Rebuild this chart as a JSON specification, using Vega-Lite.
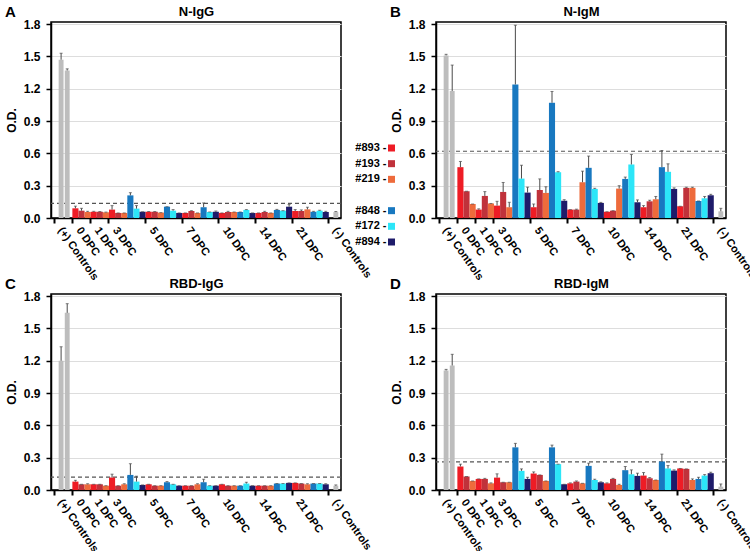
{
"$schema": "https://vega.github.io/schema/vega-lite/v6.json",
"padding": {"left": 3, "top": 3, "right": 0, "bottom": 0},
"bounds": "flush",
"columns": 3,
"spacing": {"row": 52, "column": 0},
"config": {
 "view": {"stroke": "black", "strokeWidth": 1.5},
 "font": "Liberation Sans",
 "axis": {"labelFont": "Liberation Sans", "titleFont": "Liberation Sans", "labelColor": "black", "titleColor": "black", "domainColor": "black", "tickColor": "black"},
 "axisY": {"labelFontSize": 12, "labelFontWeight": "bold", "titleFontSize": 12, "titleFontWeight": "bold", "tickSize": 5, "tickWidth": 1.5, "domainWidth": 1.5, "labelPadding": 6, "titlePadding": 5, "gridColor": "#dddddd", "gridWidth": 1}
},
"datasets": {
 "cutoffs": [
  {"panel": "N-IgG", "cutoff": 0.135},
  {"panel": "N-IgM", "cutoff": 0.62},
  {"panel": "RBD-IgG", "cutoff": 0.12},
  {"panel": "RBD-IgM", "cutoff": 0.262}
 ],
 "legend": [
  {"animal": "#893", "label": "#893 -"},
  {"animal": "#193", "label": "#193 -"},
  {"animal": "#219", "label": "#219 -"},
  {"animal": "#848", "label": "#848 -"},
  {"animal": "#172", "label": "#172 -"},
  {"animal": "#894", "label": "#894 -"}
 ],
 "bars": [
  {"panel":"N-IgG","group":"(+) Controls","animal":"C1","od":1.47,"upper":1.53},
  {"panel":"N-IgG","group":"(+) Controls","animal":"C2","od":1.37,"upper":1.385},
  {"panel":"N-IgG","group":"0 DPC","animal":"#893","od":0.09,"upper":0.11},
  {"panel":"N-IgG","group":"0 DPC","animal":"#193","od":0.068,"upper":0.09},
  {"panel":"N-IgG","group":"0 DPC","animal":"#219","od":0.056,"upper":0.062},
  {"panel":"N-IgG","group":"1 DPC","animal":"#893","od":0.058,"upper":0.062},
  {"panel":"N-IgG","group":"1 DPC","animal":"#193","od":0.058,"upper":0.06},
  {"panel":"N-IgG","group":"1 DPC","animal":"#219","od":0.053,"upper":0.055},
  {"panel":"N-IgG","group":"3 DPC","animal":"#893","od":0.078,"upper":0.115},
  {"panel":"N-IgG","group":"3 DPC","animal":"#193","od":0.047,"upper":0.047},
  {"panel":"N-IgG","group":"3 DPC","animal":"#219","od":0.047,"upper":0.047},
  {"panel":"N-IgG","group":"3 DPC","animal":"#848","od":0.21,"upper":0.235},
  {"panel":"N-IgG","group":"3 DPC","animal":"#172","od":0.087,"upper":0.115},
  {"panel":"N-IgG","group":"3 DPC","animal":"#894","od":0.058,"upper":0.058},
  {"panel":"N-IgG","group":"5 DPC","animal":"#893","od":0.058,"upper":0.06},
  {"panel":"N-IgG","group":"5 DPC","animal":"#193","od":0.058,"upper":0.06},
  {"panel":"N-IgG","group":"5 DPC","animal":"#219","od":0.05,"upper":0.05},
  {"panel":"N-IgG","group":"5 DPC","animal":"#848","od":0.105,"upper":0.105},
  {"panel":"N-IgG","group":"5 DPC","animal":"#172","od":0.068,"upper":0.078},
  {"panel":"N-IgG","group":"5 DPC","animal":"#894","od":0.047,"upper":0.047},
  {"panel":"N-IgG","group":"7 DPC","animal":"#893","od":0.047,"upper":0.047},
  {"panel":"N-IgG","group":"7 DPC","animal":"#193","od":0.065,"upper":0.068},
  {"panel":"N-IgG","group":"7 DPC","animal":"#219","od":0.047,"upper":0.047},
  {"panel":"N-IgG","group":"7 DPC","animal":"#848","od":0.1,"upper":0.14},
  {"panel":"N-IgG","group":"7 DPC","animal":"#172","od":0.056,"upper":0.056},
  {"panel":"N-IgG","group":"7 DPC","animal":"#894","od":0.058,"upper":0.065},
  {"panel":"N-IgG","group":"10 DPC","animal":"#893","od":0.047,"upper":0.047},
  {"panel":"N-IgG","group":"10 DPC","animal":"#193","od":0.056,"upper":0.062},
  {"panel":"N-IgG","group":"10 DPC","animal":"#219","od":0.056,"upper":0.056},
  {"panel":"N-IgG","group":"10 DPC","animal":"#848","od":0.056,"upper":0.056},
  {"panel":"N-IgG","group":"10 DPC","animal":"#172","od":0.075,"upper":0.078},
  {"panel":"N-IgG","group":"10 DPC","animal":"#894","od":0.047,"upper":0.047},
  {"panel":"N-IgG","group":"14 DPC","animal":"#893","od":0.047,"upper":0.047},
  {"panel":"N-IgG","group":"14 DPC","animal":"#193","od":0.056,"upper":0.062},
  {"panel":"N-IgG","group":"14 DPC","animal":"#219","od":0.047,"upper":0.047},
  {"panel":"N-IgG","group":"14 DPC","animal":"#848","od":0.075,"upper":0.08},
  {"panel":"N-IgG","group":"14 DPC","animal":"#172","od":0.068,"upper":0.068},
  {"panel":"N-IgG","group":"14 DPC","animal":"#894","od":0.105,"upper":0.125},
  {"panel":"N-IgG","group":"21 DPC","animal":"#893","od":0.065,"upper":0.078},
  {"panel":"N-IgG","group":"21 DPC","animal":"#193","od":0.065,"upper":0.075},
  {"panel":"N-IgG","group":"21 DPC","animal":"#219","od":0.08,"upper":0.1},
  {"panel":"N-IgG","group":"21 DPC","animal":"#848","od":0.058,"upper":0.062},
  {"panel":"N-IgG","group":"21 DPC","animal":"#172","od":0.068,"upper":0.072},
  {"panel":"N-IgG","group":"21 DPC","animal":"#894","od":0.056,"upper":0.062},
  {"panel":"N-IgG","group":"(-) Controls","animal":"C1","od":0.055,"upper":0.06},

  {"panel":"N-IgM","group":"(+) Controls","animal":"C1","od":1.51,"upper":1.52},
  {"panel":"N-IgM","group":"(+) Controls","animal":"C2","od":1.18,"upper":1.42},
  {"panel":"N-IgM","group":"0 DPC","animal":"#893","od":0.472,"upper":0.525},
  {"panel":"N-IgM","group":"0 DPC","animal":"#193","od":0.248,"upper":0.248},
  {"panel":"N-IgM","group":"0 DPC","animal":"#219","od":0.13,"upper":0.13},
  {"panel":"N-IgM","group":"1 DPC","animal":"#893","od":0.078,"upper":0.085},
  {"panel":"N-IgM","group":"1 DPC","animal":"#193","od":0.205,"upper":0.245},
  {"panel":"N-IgM","group":"1 DPC","animal":"#219","od":0.135,"upper":0.135},
  {"panel":"N-IgM","group":"3 DPC","animal":"#893","od":0.115,"upper":0.155},
  {"panel":"N-IgM","group":"3 DPC","animal":"#193","od":0.242,"upper":0.33},
  {"panel":"N-IgM","group":"3 DPC","animal":"#219","od":0.1,"upper":0.146},
  {"panel":"N-IgM","group":"3 DPC","animal":"#848","od":1.24,"upper":1.79},
  {"panel":"N-IgM","group":"3 DPC","animal":"#172","od":0.366,"upper":0.49},
  {"panel":"N-IgM","group":"3 DPC","animal":"#894","od":0.236,"upper":0.286},
  {"panel":"N-IgM","group":"5 DPC","animal":"#893","od":0.1,"upper":0.13},
  {"panel":"N-IgM","group":"5 DPC","animal":"#193","od":0.26,"upper":0.363},
  {"panel":"N-IgM","group":"5 DPC","animal":"#219","od":0.233,"upper":0.29},
  {"panel":"N-IgM","group":"5 DPC","animal":"#848","od":1.07,"upper":1.175},
  {"panel":"N-IgM","group":"5 DPC","animal":"#172","od":0.425,"upper":0.43},
  {"panel":"N-IgM","group":"5 DPC","animal":"#894","od":0.16,"upper":0.17},
  {"panel":"N-IgM","group":"7 DPC","animal":"#893","od":0.078,"upper":0.078},
  {"panel":"N-IgM","group":"7 DPC","animal":"#193","od":0.078,"upper":0.082},
  {"panel":"N-IgM","group":"7 DPC","animal":"#219","od":0.332,"upper":0.435},
  {"panel":"N-IgM","group":"7 DPC","animal":"#848","od":0.466,"upper":0.575},
  {"panel":"N-IgM","group":"7 DPC","animal":"#172","od":0.27,"upper":0.276},
  {"panel":"N-IgM","group":"7 DPC","animal":"#894","od":0.14,"upper":0.145},
  {"panel":"N-IgM","group":"10 DPC","animal":"#893","od":0.058,"upper":0.058},
  {"panel":"N-IgM","group":"10 DPC","animal":"#193","od":0.068,"upper":0.068},
  {"panel":"N-IgM","group":"10 DPC","animal":"#219","od":0.273,"upper":0.3},
  {"panel":"N-IgM","group":"10 DPC","animal":"#848","od":0.363,"upper":0.38},
  {"panel":"N-IgM","group":"10 DPC","animal":"#172","od":0.497,"upper":0.59},
  {"panel":"N-IgM","group":"10 DPC","animal":"#894","od":0.146,"upper":0.168},
  {"panel":"N-IgM","group":"14 DPC","animal":"#893","od":0.1,"upper":0.115},
  {"panel":"N-IgM","group":"14 DPC","animal":"#193","od":0.155,"upper":0.165},
  {"panel":"N-IgM","group":"14 DPC","animal":"#219","od":0.174,"upper":0.2},
  {"panel":"N-IgM","group":"14 DPC","animal":"#848","od":0.472,"upper":0.627},
  {"panel":"N-IgM","group":"14 DPC","animal":"#172","od":0.429,"upper":0.503},
  {"panel":"N-IgM","group":"14 DPC","animal":"#894","od":0.27,"upper":0.28},
  {"panel":"N-IgM","group":"21 DPC","animal":"#893","od":0.109,"upper":0.109},
  {"panel":"N-IgM","group":"21 DPC","animal":"#193","od":0.28,"upper":0.286},
  {"panel":"N-IgM","group":"21 DPC","animal":"#219","od":0.28,"upper":0.286},
  {"panel":"N-IgM","group":"21 DPC","animal":"#848","od":0.158,"upper":0.158},
  {"panel":"N-IgM","group":"21 DPC","animal":"#172","od":0.183,"upper":0.2},
  {"panel":"N-IgM","group":"21 DPC","animal":"#894","od":0.211,"upper":0.22},
  {"panel":"N-IgM","group":"(-) Controls","animal":"C1","od":0.062,"upper":0.09},

  {"panel":"RBD-IgG","group":"(+) Controls","animal":"C1","od":1.2,"upper":1.33},
  {"panel":"RBD-IgG","group":"(+) Controls","animal":"C2","od":1.645,"upper":1.73},
  {"panel":"RBD-IgG","group":"0 DPC","animal":"#893","od":0.078,"upper":0.09},
  {"panel":"RBD-IgG","group":"0 DPC","animal":"#193","od":0.053,"upper":0.053},
  {"panel":"RBD-IgG","group":"0 DPC","animal":"#219","od":0.053,"upper":0.058},
  {"panel":"RBD-IgG","group":"1 DPC","animal":"#893","od":0.053,"upper":0.053},
  {"panel":"RBD-IgG","group":"1 DPC","animal":"#193","od":0.053,"upper":0.053},
  {"panel":"RBD-IgG","group":"1 DPC","animal":"#219","od":0.04,"upper":0.04},
  {"panel":"RBD-IgG","group":"3 DPC","animal":"#893","od":0.116,"upper":0.147},
  {"panel":"RBD-IgG","group":"3 DPC","animal":"#193","od":0.04,"upper":0.04},
  {"panel":"RBD-IgG","group":"3 DPC","animal":"#219","od":0.053,"upper":0.058},
  {"panel":"RBD-IgG","group":"3 DPC","animal":"#848","od":0.14,"upper":0.244},
  {"panel":"RBD-IgG","group":"3 DPC","animal":"#172","od":0.078,"upper":0.128},
  {"panel":"RBD-IgG","group":"3 DPC","animal":"#894","od":0.047,"upper":0.047},
  {"panel":"RBD-IgG","group":"5 DPC","animal":"#893","od":0.053,"upper":0.053},
  {"panel":"RBD-IgG","group":"5 DPC","animal":"#193","od":0.04,"upper":0.04},
  {"panel":"RBD-IgG","group":"5 DPC","animal":"#219","od":0.04,"upper":0.04},
  {"panel":"RBD-IgG","group":"5 DPC","animal":"#848","od":0.072,"upper":0.078},
  {"panel":"RBD-IgG","group":"5 DPC","animal":"#172","od":0.053,"upper":0.053},
  {"panel":"RBD-IgG","group":"5 DPC","animal":"#894","od":0.04,"upper":0.04},
  {"panel":"RBD-IgG","group":"7 DPC","animal":"#893","od":0.04,"upper":0.04},
  {"panel":"RBD-IgG","group":"7 DPC","animal":"#193","od":0.04,"upper":0.04},
  {"panel":"RBD-IgG","group":"7 DPC","animal":"#219","od":0.053,"upper":0.058},
  {"panel":"RBD-IgG","group":"7 DPC","animal":"#848","od":0.072,"upper":0.1},
  {"panel":"RBD-IgG","group":"7 DPC","animal":"#172","od":0.04,"upper":0.04},
  {"panel":"RBD-IgG","group":"7 DPC","animal":"#894","od":0.04,"upper":0.04},
  {"panel":"RBD-IgG","group":"10 DPC","animal":"#893","od":0.053,"upper":0.053},
  {"panel":"RBD-IgG","group":"10 DPC","animal":"#193","od":0.04,"upper":0.04},
  {"panel":"RBD-IgG","group":"10 DPC","animal":"#219","od":0.04,"upper":0.04},
  {"panel":"RBD-IgG","group":"10 DPC","animal":"#848","od":0.04,"upper":0.04},
  {"panel":"RBD-IgG","group":"10 DPC","animal":"#172","od":0.06,"upper":0.072},
  {"panel":"RBD-IgG","group":"10 DPC","animal":"#894","od":0.04,"upper":0.04},
  {"panel":"RBD-IgG","group":"14 DPC","animal":"#893","od":0.04,"upper":0.04},
  {"panel":"RBD-IgG","group":"14 DPC","animal":"#193","od":0.04,"upper":0.04},
  {"panel":"RBD-IgG","group":"14 DPC","animal":"#219","od":0.04,"upper":0.04},
  {"panel":"RBD-IgG","group":"14 DPC","animal":"#848","od":0.06,"upper":0.06},
  {"panel":"RBD-IgG","group":"14 DPC","animal":"#172","od":0.06,"upper":0.06},
  {"panel":"RBD-IgG","group":"14 DPC","animal":"#894","od":0.066,"upper":0.066},
  {"panel":"RBD-IgG","group":"21 DPC","animal":"#893","od":0.066,"upper":0.066},
  {"panel":"RBD-IgG","group":"21 DPC","animal":"#193","od":0.06,"upper":0.06},
  {"panel":"RBD-IgG","group":"21 DPC","animal":"#219","od":0.053,"upper":0.058},
  {"panel":"RBD-IgG","group":"21 DPC","animal":"#848","od":0.06,"upper":0.06},
  {"panel":"RBD-IgG","group":"21 DPC","animal":"#172","od":0.06,"upper":0.06},
  {"panel":"RBD-IgG","group":"21 DPC","animal":"#894","od":0.053,"upper":0.058},
  {"panel":"RBD-IgG","group":"(-) Controls","animal":"C1","od":0.04,"upper":0.047},

  {"panel":"RBD-IgM","group":"(+) Controls","animal":"C1","od":1.11,"upper":1.12},
  {"panel":"RBD-IgM","group":"(+) Controls","animal":"C2","od":1.156,"upper":1.26},
  {"panel":"RBD-IgM","group":"0 DPC","animal":"#893","od":0.218,"upper":0.24},
  {"panel":"RBD-IgM","group":"0 DPC","animal":"#193","od":0.125,"upper":0.125},
  {"panel":"RBD-IgM","group":"0 DPC","animal":"#219","od":0.084,"upper":0.084},
  {"panel":"RBD-IgM","group":"1 DPC","animal":"#893","od":0.103,"upper":0.103},
  {"panel":"RBD-IgM","group":"1 DPC","animal":"#193","od":0.103,"upper":0.108},
  {"panel":"RBD-IgM","group":"1 DPC","animal":"#219","od":0.062,"upper":0.066},
  {"panel":"RBD-IgM","group":"3 DPC","animal":"#893","od":0.115,"upper":0.15},
  {"panel":"RBD-IgM","group":"3 DPC","animal":"#193","od":0.072,"upper":0.072},
  {"panel":"RBD-IgM","group":"3 DPC","animal":"#219","od":0.072,"upper":0.072},
  {"panel":"RBD-IgM","group":"3 DPC","animal":"#848","od":0.396,"upper":0.433},
  {"panel":"RBD-IgM","group":"3 DPC","animal":"#172","od":0.178,"upper":0.196},
  {"panel":"RBD-IgM","group":"3 DPC","animal":"#894","od":0.103,"upper":0.118},
  {"panel":"RBD-IgM","group":"5 DPC","animal":"#893","od":0.153,"upper":0.168},
  {"panel":"RBD-IgM","group":"5 DPC","animal":"#193","od":0.14,"upper":0.14},
  {"panel":"RBD-IgM","group":"5 DPC","animal":"#219","od":0.084,"upper":0.084},
  {"panel":"RBD-IgM","group":"5 DPC","animal":"#848","od":0.396,"upper":0.417},
  {"panel":"RBD-IgM","group":"5 DPC","animal":"#172","od":0.24,"upper":0.24},
  {"panel":"RBD-IgM","group":"5 DPC","animal":"#894","od":0.053,"upper":0.053},
  {"panel":"RBD-IgM","group":"7 DPC","animal":"#893","od":0.062,"upper":0.066},
  {"panel":"RBD-IgM","group":"7 DPC","animal":"#193","od":0.078,"upper":0.084},
  {"panel":"RBD-IgM","group":"7 DPC","animal":"#219","od":0.062,"upper":0.062},
  {"panel":"RBD-IgM","group":"7 DPC","animal":"#848","od":0.224,"upper":0.249},
  {"panel":"RBD-IgM","group":"7 DPC","animal":"#172","od":0.093,"upper":0.1},
  {"panel":"RBD-IgM","group":"7 DPC","animal":"#894","od":0.072,"upper":0.076},
  {"panel":"RBD-IgM","group":"10 DPC","animal":"#893","od":0.062,"upper":0.066},
  {"panel":"RBD-IgM","group":"10 DPC","animal":"#193","od":0.103,"upper":0.108},
  {"panel":"RBD-IgM","group":"10 DPC","animal":"#219","od":0.047,"upper":0.053},
  {"panel":"RBD-IgM","group":"10 DPC","animal":"#848","od":0.184,"upper":0.218},
  {"panel":"RBD-IgM","group":"10 DPC","animal":"#172","od":0.146,"upper":0.187},
  {"panel":"RBD-IgM","group":"10 DPC","animal":"#894","od":0.131,"upper":0.156},
  {"panel":"RBD-IgM","group":"14 DPC","animal":"#893","od":0.134,"upper":0.162},
  {"panel":"RBD-IgM","group":"14 DPC","animal":"#193","od":0.109,"upper":0.115},
  {"panel":"RBD-IgM","group":"14 DPC","animal":"#219","od":0.093,"upper":0.093},
  {"panel":"RBD-IgM","group":"14 DPC","animal":"#848","od":0.265,"upper":0.333},
  {"panel":"RBD-IgM","group":"14 DPC","animal":"#172","od":0.2,"upper":0.227},
  {"panel":"RBD-IgM","group":"14 DPC","animal":"#894","od":0.18,"upper":0.187},
  {"panel":"RBD-IgM","group":"21 DPC","animal":"#893","od":0.2,"upper":0.2},
  {"panel":"RBD-IgM","group":"21 DPC","animal":"#193","od":0.196,"upper":0.196},
  {"panel":"RBD-IgM","group":"21 DPC","animal":"#219","od":0.093,"upper":0.103},
  {"panel":"RBD-IgM","group":"21 DPC","animal":"#848","od":0.103,"upper":0.118},
  {"panel":"RBD-IgM","group":"21 DPC","animal":"#172","od":0.134,"upper":0.143},
  {"panel":"RBD-IgM","group":"21 DPC","animal":"#894","od":0.156,"upper":0.165},
  {"panel":"RBD-IgM","group":"(-) Controls","animal":"C1","od":0.031,"upper":0.056}
 ]
},
"concat": [
  {"width": 290, "height": 196, "data": {"name": "bars"},
   "transform": [{"filter": "datum.panel === 'N-IgG'"}, {"calculate": "datum.group + '|' + datum.animal", "as": "slot"}],
   "resolve": {"axis": {"x": "independent"}},
   "layer": [
    {"data": {"name": "cutoffs"}, "transform": [{"filter": "datum.panel === 'N-IgG'"}], "mark": {"type": "rule", "strokeDash": [4, 3], "color": "#555555", "strokeWidth": 1.2}, "encoding": {"y": {"field": "cutoff", "type": "quantitative", "title": "O.D.", "scale": {"domain": [0, 1.82], "nice": false}, "axis": {"values": [0, 0.3, 0.6, 0.9, 1.2, 1.5, 1.8], "format": ".1f", "grid": true, "labelOverlap": false}}}},
    {"transform": [{"filter": "indexof(datum.animal, '#') === 0"}], "mark": {"type": "bar", "width": {"band": 1}},
     "encoding": {
      "x": {"field": "slot", "type": "nominal", "scale": {"type": "band", "paddingInner": 0, "paddingOuter": 0.25, "align": 1, "domain": ["(+) Controls|C1","(+) Controls|C2","(+) Controls|C3","0 DPC|#893","0 DPC|#193","0 DPC|#219","1 DPC|#893","1 DPC|#193","1 DPC|#219","3 DPC|#893","3 DPC|#193","3 DPC|#219","3 DPC|#848","3 DPC|#172","3 DPC|#894","5 DPC|#893","5 DPC|#193","5 DPC|#219","5 DPC|#848","5 DPC|#172","5 DPC|#894","7 DPC|#893","7 DPC|#193","7 DPC|#219","7 DPC|#848","7 DPC|#172","7 DPC|#894","10 DPC|#893","10 DPC|#193","10 DPC|#219","10 DPC|#848","10 DPC|#172","10 DPC|#894","14 DPC|#893","14 DPC|#193","14 DPC|#219","14 DPC|#848","14 DPC|#172","14 DPC|#894","21 DPC|#893","21 DPC|#193","21 DPC|#219","21 DPC|#848","21 DPC|#172","21 DPC|#894","(-) Controls|C1","(-) Controls|C2"]},
       "axis": {"values": ["(+) Controls|C1","0 DPC|#893","1 DPC|#893","3 DPC|#893","5 DPC|#893","7 DPC|#893","10 DPC|#893","14 DPC|#893","21 DPC|#893","(-) Controls|C1"], "bandPosition": 0, "labelExpr": "split(datum.value, '|')[0]", "labelAngle": 55, "labelAlign": "left", "labelBaseline": "middle", "labelOffset": 3, "labelPadding": 5, "labelFontSize": 11, "labelFontWeight": "bold", "labelBound": false, "labelOverlap": false, "labelFlush": false, "tickSize": 5, "tickWidth": 2, "domainWidth": 1.5, "grid": false, "title": null}},
      "y": {"field": "od", "type": "quantitative", "title": "O.D.", "scale": {"domain": [0, 1.82], "nice": false}, "axis": {"values": [0, 0.3, 0.6, 0.9, 1.2, 1.5, 1.8], "format": ".1f", "grid": true, "labelOverlap": false}},
      "color": {"field": "animal", "type": "nominal", "legend": null, "scale": {"domain": ["#893","#193","#219","#848","#172","#894","C1","C2"], "range": ["#EE1C25","#C0323B","#EE6B3C","#1878C0","#2CE6F8","#1E1B6A","#BDBDBD","#BDBDBD"]}}
     }},
    {"transform": [{"filter": "indexof(datum.animal, 'C') === 0"}], "mark": {"type": "bar", "width": {"band": 0.8}, "xOffset": 4},
     "encoding": {
      "x": {"field": "slot", "type": "nominal", "axis": {"orient": "top", "values": ["(+) Controls|C1"], "bandPosition": 0, "labelExpr": "'A'", "labelAngle": 0, "labelAlign": "left", "labelBaseline": "alphabetic", "labelOffset": -52, "labelPadding": 6, "labelFontSize": 15, "labelFontWeight": "bold", "labelBound": false, "labelFlush": false, "labelOverlap": false, "ticks": false, "tickSize": 0, "domain": false, "grid": false, "title": "N-IgG", "titleFontSize": 13, "titleFontWeight": "bold", "titleBaseline": "alphabetic", "titleY": -7}},
      "y": {"field": "od", "type": "quantitative", "title": "O.D.", "axis": {"values": [0, 0.3, 0.6, 0.9, 1.2, 1.5, 1.8], "format": ".1f", "grid": true, "labelOverlap": false}},
      "color": {"field": "animal", "type": "nominal", "legend": null}
     }},
    {"transform": [{"filter": "indexof(datum.animal, '#') === 0"}], "mark": {"type": "rule", "color": "#4a4a4a", "strokeWidth": 1},
     "encoding": {"x": {"field": "slot", "type": "nominal", "axis": null}, "y": {"field": "od", "type": "quantitative", "title": "O.D.", "axis": {"values": [0, 0.3, 0.6, 0.9, 1.2, 1.5, 1.8], "format": ".1f", "grid": true, "labelOverlap": false}}, "y2": {"field": "upper"}}},
    {"transform": [{"filter": "indexof(datum.animal, '#') === 0"}], "mark": {"type": "tick", "color": "#4a4a4a", "size": 3, "thickness": 1, "orient": "horizontal"},
     "encoding": {"x": {"field": "slot", "type": "nominal", "axis": null}, "y": {"field": "upper", "type": "quantitative", "title": "O.D.", "axis": {"values": [0, 0.3, 0.6, 0.9, 1.2, 1.5, 1.8], "format": ".1f", "grid": true, "labelOverlap": false}}}},
    {"transform": [{"filter": "indexof(datum.animal, 'C') === 0"}], "mark": {"type": "rule", "color": "#4a4a4a", "strokeWidth": 1, "xOffset": 4},
     "encoding": {"x": {"field": "slot", "type": "nominal", "axis": null}, "y": {"field": "od", "type": "quantitative", "title": "O.D.", "axis": {"values": [0, 0.3, 0.6, 0.9, 1.2, 1.5, 1.8], "format": ".1f", "grid": true, "labelOverlap": false}}, "y2": {"field": "upper"}}},
    {"transform": [{"filter": "indexof(datum.animal, 'C') === 0"}], "mark": {"type": "tick", "color": "#4a4a4a", "size": 3, "thickness": 1, "orient": "horizontal", "xOffset": 4},
     "encoding": {"x": {"field": "slot", "type": "nominal", "axis": null}, "y": {"field": "upper", "type": "quantitative", "title": "O.D.", "axis": {"values": [0, 0.3, 0.6, 0.9, 1.2, 1.5, 1.8], "format": ".1f", "grid": true, "labelOverlap": false}}}}
   ]},
  {"width": 95, "height": 220, "data": {"name": "legend"}, "view": {"stroke": null},
   "layer": [
    {"mark": {"type": "square", "size": 49, "opacity": 1, "xOffset": 3},
     "encoding": {"y": {"field": "animal", "type": "nominal", "axis": null, "scale": {"type": "point", "domain": ["#893","#193","#219"," ","#848","#172","#894"], "range": [126, 220], "padding": 0}},
      "color": {"field": "animal", "type": "nominal", "legend": null, "scale": {"domain": ["#893","#193","#219","#848","#172","#894","C1","C2"], "range": ["#EE1C25","#C0323B","#EE6B3C","#1878C0","#2CE6F8","#1E1B6A","#BDBDBD","#BDBDBD"]}}}},
    {"mark": {"type": "text", "align": "right", "baseline": "middle", "dx": -2, "fontSize": 11, "fontWeight": "bold", "font": "Liberation Sans", "color": "black"},
     "encoding": {"y": {"field": "animal", "type": "nominal", "axis": null}, "text": {"field": "label"}}}
   ]},
  {"width": 290, "height": 196, "data": {"name": "bars"},
   "transform": [{"filter": "datum.panel === 'N-IgM'"}, {"calculate": "datum.group + '|' + datum.animal", "as": "slot"}],
   "resolve": {"axis": {"x": "independent"}},
   "layer": [
    {"data": {"name": "cutoffs"}, "transform": [{"filter": "datum.panel === 'N-IgM'"}], "mark": {"type": "rule", "strokeDash": [4, 3], "color": "#555555", "strokeWidth": 1.2}, "encoding": {"y": {"field": "cutoff", "type": "quantitative", "title": "O.D.", "scale": {"domain": [0, 1.82], "nice": false}, "axis": {"values": [0, 0.3, 0.6, 0.9, 1.2, 1.5, 1.8], "format": ".1f", "grid": true, "labelOverlap": false}}}},
    {"transform": [{"filter": "indexof(datum.animal, '#') === 0"}], "mark": {"type": "bar", "width": {"band": 1}},
     "encoding": {
      "x": {"field": "slot", "type": "nominal", "scale": {"type": "band", "paddingInner": 0, "paddingOuter": 0.25, "align": 1, "domain": ["(+) Controls|C1","(+) Controls|C2","(+) Controls|C3","0 DPC|#893","0 DPC|#193","0 DPC|#219","1 DPC|#893","1 DPC|#193","1 DPC|#219","3 DPC|#893","3 DPC|#193","3 DPC|#219","3 DPC|#848","3 DPC|#172","3 DPC|#894","5 DPC|#893","5 DPC|#193","5 DPC|#219","5 DPC|#848","5 DPC|#172","5 DPC|#894","7 DPC|#893","7 DPC|#193","7 DPC|#219","7 DPC|#848","7 DPC|#172","7 DPC|#894","10 DPC|#893","10 DPC|#193","10 DPC|#219","10 DPC|#848","10 DPC|#172","10 DPC|#894","14 DPC|#893","14 DPC|#193","14 DPC|#219","14 DPC|#848","14 DPC|#172","14 DPC|#894","21 DPC|#893","21 DPC|#193","21 DPC|#219","21 DPC|#848","21 DPC|#172","21 DPC|#894","(-) Controls|C1","(-) Controls|C2"]},
       "axis": {"values": ["(+) Controls|C1","0 DPC|#893","1 DPC|#893","3 DPC|#893","5 DPC|#893","7 DPC|#893","10 DPC|#893","14 DPC|#893","21 DPC|#893","(-) Controls|C1"], "bandPosition": 0, "labelExpr": "split(datum.value, '|')[0]", "labelAngle": 55, "labelAlign": "left", "labelBaseline": "middle", "labelOffset": 3, "labelPadding": 5, "labelFontSize": 11, "labelFontWeight": "bold", "labelBound": false, "labelOverlap": false, "labelFlush": false, "tickSize": 5, "tickWidth": 2, "domainWidth": 1.5, "grid": false, "title": null}},
      "y": {"field": "od", "type": "quantitative", "title": "O.D.", "scale": {"domain": [0, 1.82], "nice": false}, "axis": {"values": [0, 0.3, 0.6, 0.9, 1.2, 1.5, 1.8], "format": ".1f", "grid": true, "labelOverlap": false}},
      "color": {"field": "animal", "type": "nominal", "legend": null, "scale": {"domain": ["#893","#193","#219","#848","#172","#894","C1","C2"], "range": ["#EE1C25","#C0323B","#EE6B3C","#1878C0","#2CE6F8","#1E1B6A","#BDBDBD","#BDBDBD"]}}
     }},
    {"transform": [{"filter": "indexof(datum.animal, 'C') === 0"}], "mark": {"type": "bar", "width": {"band": 0.8}, "xOffset": 4},
     "encoding": {
      "x": {"field": "slot", "type": "nominal", "axis": {"orient": "top", "values": ["(+) Controls|C1"], "bandPosition": 0, "labelExpr": "'B'", "labelAngle": 0, "labelAlign": "left", "labelBaseline": "alphabetic", "labelOffset": -52, "labelPadding": 6, "labelFontSize": 15, "labelFontWeight": "bold", "labelBound": false, "labelFlush": false, "labelOverlap": false, "ticks": false, "tickSize": 0, "domain": false, "grid": false, "title": "N-IgM", "titleFontSize": 13, "titleFontWeight": "bold", "titleBaseline": "alphabetic", "titleY": -7}},
      "y": {"field": "od", "type": "quantitative", "title": "O.D.", "axis": {"values": [0, 0.3, 0.6, 0.9, 1.2, 1.5, 1.8], "format": ".1f", "grid": true, "labelOverlap": false}},
      "color": {"field": "animal", "type": "nominal", "legend": null}
     }},
    {"transform": [{"filter": "indexof(datum.animal, '#') === 0"}], "mark": {"type": "rule", "color": "#4a4a4a", "strokeWidth": 1},
     "encoding": {"x": {"field": "slot", "type": "nominal", "axis": null}, "y": {"field": "od", "type": "quantitative", "title": "O.D.", "axis": {"values": [0, 0.3, 0.6, 0.9, 1.2, 1.5, 1.8], "format": ".1f", "grid": true, "labelOverlap": false}}, "y2": {"field": "upper"}}},
    {"transform": [{"filter": "indexof(datum.animal, '#') === 0"}], "mark": {"type": "tick", "color": "#4a4a4a", "size": 3, "thickness": 1, "orient": "horizontal"},
     "encoding": {"x": {"field": "slot", "type": "nominal", "axis": null}, "y": {"field": "upper", "type": "quantitative", "title": "O.D.", "axis": {"values": [0, 0.3, 0.6, 0.9, 1.2, 1.5, 1.8], "format": ".1f", "grid": true, "labelOverlap": false}}}},
    {"transform": [{"filter": "indexof(datum.animal, 'C') === 0"}], "mark": {"type": "rule", "color": "#4a4a4a", "strokeWidth": 1, "xOffset": 4},
     "encoding": {"x": {"field": "slot", "type": "nominal", "axis": null}, "y": {"field": "od", "type": "quantitative", "title": "O.D.", "axis": {"values": [0, 0.3, 0.6, 0.9, 1.2, 1.5, 1.8], "format": ".1f", "grid": true, "labelOverlap": false}}, "y2": {"field": "upper"}}},
    {"transform": [{"filter": "indexof(datum.animal, 'C') === 0"}], "mark": {"type": "tick", "color": "#4a4a4a", "size": 3, "thickness": 1, "orient": "horizontal", "xOffset": 4},
     "encoding": {"x": {"field": "slot", "type": "nominal", "axis": null}, "y": {"field": "upper", "type": "quantitative", "title": "O.D.", "axis": {"values": [0, 0.3, 0.6, 0.9, 1.2, 1.5, 1.8], "format": ".1f", "grid": true, "labelOverlap": false}}}}
   ]},
  {"width": 290, "height": 196, "data": {"name": "bars"},
   "transform": [{"filter": "datum.panel === 'RBD-IgG'"}, {"calculate": "datum.group + '|' + datum.animal", "as": "slot"}],
   "resolve": {"axis": {"x": "independent"}},
   "layer": [
    {"data": {"name": "cutoffs"}, "transform": [{"filter": "datum.panel === 'RBD-IgG'"}], "mark": {"type": "rule", "strokeDash": [4, 3], "color": "#555555", "strokeWidth": 1.2}, "encoding": {"y": {"field": "cutoff", "type": "quantitative", "title": "O.D.", "scale": {"domain": [0, 1.82], "nice": false}, "axis": {"values": [0, 0.3, 0.6, 0.9, 1.2, 1.5, 1.8], "format": ".1f", "grid": true, "labelOverlap": false}}}},
    {"transform": [{"filter": "indexof(datum.animal, '#') === 0"}], "mark": {"type": "bar", "width": {"band": 1}},
     "encoding": {
      "x": {"field": "slot", "type": "nominal", "scale": {"type": "band", "paddingInner": 0, "paddingOuter": 0.25, "align": 1, "domain": ["(+) Controls|C1","(+) Controls|C2","(+) Controls|C3","0 DPC|#893","0 DPC|#193","0 DPC|#219","1 DPC|#893","1 DPC|#193","1 DPC|#219","3 DPC|#893","3 DPC|#193","3 DPC|#219","3 DPC|#848","3 DPC|#172","3 DPC|#894","5 DPC|#893","5 DPC|#193","5 DPC|#219","5 DPC|#848","5 DPC|#172","5 DPC|#894","7 DPC|#893","7 DPC|#193","7 DPC|#219","7 DPC|#848","7 DPC|#172","7 DPC|#894","10 DPC|#893","10 DPC|#193","10 DPC|#219","10 DPC|#848","10 DPC|#172","10 DPC|#894","14 DPC|#893","14 DPC|#193","14 DPC|#219","14 DPC|#848","14 DPC|#172","14 DPC|#894","21 DPC|#893","21 DPC|#193","21 DPC|#219","21 DPC|#848","21 DPC|#172","21 DPC|#894","(-) Controls|C1","(-) Controls|C2"]},
       "axis": {"values": ["(+) Controls|C1","0 DPC|#893","1 DPC|#893","3 DPC|#893","5 DPC|#893","7 DPC|#893","10 DPC|#893","14 DPC|#893","21 DPC|#893","(-) Controls|C1"], "bandPosition": 0, "labelExpr": "split(datum.value, '|')[0]", "labelAngle": 55, "labelAlign": "left", "labelBaseline": "middle", "labelOffset": 3, "labelPadding": 5, "labelFontSize": 11, "labelFontWeight": "bold", "labelBound": false, "labelOverlap": false, "labelFlush": false, "tickSize": 5, "tickWidth": 2, "domainWidth": 1.5, "grid": false, "title": null}},
      "y": {"field": "od", "type": "quantitative", "title": "O.D.", "scale": {"domain": [0, 1.82], "nice": false}, "axis": {"values": [0, 0.3, 0.6, 0.9, 1.2, 1.5, 1.8], "format": ".1f", "grid": true, "labelOverlap": false}},
      "color": {"field": "animal", "type": "nominal", "legend": null, "scale": {"domain": ["#893","#193","#219","#848","#172","#894","C1","C2"], "range": ["#EE1C25","#C0323B","#EE6B3C","#1878C0","#2CE6F8","#1E1B6A","#BDBDBD","#BDBDBD"]}}
     }},
    {"transform": [{"filter": "indexof(datum.animal, 'C') === 0"}], "mark": {"type": "bar", "width": {"band": 0.8}, "xOffset": 4},
     "encoding": {
      "x": {"field": "slot", "type": "nominal", "axis": {"orient": "top", "values": ["(+) Controls|C1"], "bandPosition": 0, "labelExpr": "'C'", "labelAngle": 0, "labelAlign": "left", "labelBaseline": "alphabetic", "labelOffset": -52, "labelPadding": 6, "labelFontSize": 15, "labelFontWeight": "bold", "labelBound": false, "labelFlush": false, "labelOverlap": false, "ticks": false, "tickSize": 0, "domain": false, "grid": false, "title": "RBD-IgG", "titleFontSize": 13, "titleFontWeight": "bold", "titleBaseline": "alphabetic", "titleY": -7}},
      "y": {"field": "od", "type": "quantitative", "title": "O.D.", "axis": {"values": [0, 0.3, 0.6, 0.9, 1.2, 1.5, 1.8], "format": ".1f", "grid": true, "labelOverlap": false}},
      "color": {"field": "animal", "type": "nominal", "legend": null}
     }},
    {"transform": [{"filter": "indexof(datum.animal, '#') === 0"}], "mark": {"type": "rule", "color": "#4a4a4a", "strokeWidth": 1},
     "encoding": {"x": {"field": "slot", "type": "nominal", "axis": null}, "y": {"field": "od", "type": "quantitative", "title": "O.D.", "axis": {"values": [0, 0.3, 0.6, 0.9, 1.2, 1.5, 1.8], "format": ".1f", "grid": true, "labelOverlap": false}}, "y2": {"field": "upper"}}},
    {"transform": [{"filter": "indexof(datum.animal, '#') === 0"}], "mark": {"type": "tick", "color": "#4a4a4a", "size": 3, "thickness": 1, "orient": "horizontal"},
     "encoding": {"x": {"field": "slot", "type": "nominal", "axis": null}, "y": {"field": "upper", "type": "quantitative", "title": "O.D.", "axis": {"values": [0, 0.3, 0.6, 0.9, 1.2, 1.5, 1.8], "format": ".1f", "grid": true, "labelOverlap": false}}}},
    {"transform": [{"filter": "indexof(datum.animal, 'C') === 0"}], "mark": {"type": "rule", "color": "#4a4a4a", "strokeWidth": 1, "xOffset": 4},
     "encoding": {"x": {"field": "slot", "type": "nominal", "axis": null}, "y": {"field": "od", "type": "quantitative", "title": "O.D.", "axis": {"values": [0, 0.3, 0.6, 0.9, 1.2, 1.5, 1.8], "format": ".1f", "grid": true, "labelOverlap": false}}, "y2": {"field": "upper"}}},
    {"transform": [{"filter": "indexof(datum.animal, 'C') === 0"}], "mark": {"type": "tick", "color": "#4a4a4a", "size": 3, "thickness": 1, "orient": "horizontal", "xOffset": 4},
     "encoding": {"x": {"field": "slot", "type": "nominal", "axis": null}, "y": {"field": "upper", "type": "quantitative", "title": "O.D.", "axis": {"values": [0, 0.3, 0.6, 0.9, 1.2, 1.5, 1.8], "format": ".1f", "grid": true, "labelOverlap": false}}}}
   ]},
  {"width": 95, "height": 196, "data": {"values": []}, "view": {"stroke": null}, "mark": "point", "encoding": {}},
  {"width": 290, "height": 196, "data": {"name": "bars"},
   "transform": [{"filter": "datum.panel === 'RBD-IgM'"}, {"calculate": "datum.group + '|' + datum.animal", "as": "slot"}],
   "resolve": {"axis": {"x": "independent"}},
   "layer": [
    {"data": {"name": "cutoffs"}, "transform": [{"filter": "datum.panel === 'RBD-IgM'"}], "mark": {"type": "rule", "strokeDash": [4, 3], "color": "#555555", "strokeWidth": 1.2}, "encoding": {"y": {"field": "cutoff", "type": "quantitative", "title": "O.D.", "scale": {"domain": [0, 1.82], "nice": false}, "axis": {"values": [0, 0.3, 0.6, 0.9, 1.2, 1.5, 1.8], "format": ".1f", "grid": true, "labelOverlap": false}}}},
    {"transform": [{"filter": "indexof(datum.animal, '#') === 0"}], "mark": {"type": "bar", "width": {"band": 1}},
     "encoding": {
      "x": {"field": "slot", "type": "nominal", "scale": {"type": "band", "paddingInner": 0, "paddingOuter": 0.25, "align": 1, "domain": ["(+) Controls|C1","(+) Controls|C2","(+) Controls|C3","0 DPC|#893","0 DPC|#193","0 DPC|#219","1 DPC|#893","1 DPC|#193","1 DPC|#219","3 DPC|#893","3 DPC|#193","3 DPC|#219","3 DPC|#848","3 DPC|#172","3 DPC|#894","5 DPC|#893","5 DPC|#193","5 DPC|#219","5 DPC|#848","5 DPC|#172","5 DPC|#894","7 DPC|#893","7 DPC|#193","7 DPC|#219","7 DPC|#848","7 DPC|#172","7 DPC|#894","10 DPC|#893","10 DPC|#193","10 DPC|#219","10 DPC|#848","10 DPC|#172","10 DPC|#894","14 DPC|#893","14 DPC|#193","14 DPC|#219","14 DPC|#848","14 DPC|#172","14 DPC|#894","21 DPC|#893","21 DPC|#193","21 DPC|#219","21 DPC|#848","21 DPC|#172","21 DPC|#894","(-) Controls|C1","(-) Controls|C2"]},
       "axis": {"values": ["(+) Controls|C1","0 DPC|#893","1 DPC|#893","3 DPC|#893","5 DPC|#893","7 DPC|#893","10 DPC|#893","14 DPC|#893","21 DPC|#893","(-) Controls|C1"], "bandPosition": 0, "labelExpr": "split(datum.value, '|')[0]", "labelAngle": 55, "labelAlign": "left", "labelBaseline": "middle", "labelOffset": 3, "labelPadding": 5, "labelFontSize": 11, "labelFontWeight": "bold", "labelBound": false, "labelOverlap": false, "labelFlush": false, "tickSize": 5, "tickWidth": 2, "domainWidth": 1.5, "grid": false, "title": null}},
      "y": {"field": "od", "type": "quantitative", "title": "O.D.", "scale": {"domain": [0, 1.82], "nice": false}, "axis": {"values": [0, 0.3, 0.6, 0.9, 1.2, 1.5, 1.8], "format": ".1f", "grid": true, "labelOverlap": false}},
      "color": {"field": "animal", "type": "nominal", "legend": null, "scale": {"domain": ["#893","#193","#219","#848","#172","#894","C1","C2"], "range": ["#EE1C25","#C0323B","#EE6B3C","#1878C0","#2CE6F8","#1E1B6A","#BDBDBD","#BDBDBD"]}}
     }},
    {"transform": [{"filter": "indexof(datum.animal, 'C') === 0"}], "mark": {"type": "bar", "width": {"band": 0.8}, "xOffset": 4},
     "encoding": {
      "x": {"field": "slot", "type": "nominal", "axis": {"orient": "top", "values": ["(+) Controls|C1"], "bandPosition": 0, "labelExpr": "'D'", "labelAngle": 0, "labelAlign": "left", "labelBaseline": "alphabetic", "labelOffset": -52, "labelPadding": 6, "labelFontSize": 15, "labelFontWeight": "bold", "labelBound": false, "labelFlush": false, "labelOverlap": false, "ticks": false, "tickSize": 0, "domain": false, "grid": false, "title": "RBD-IgM", "titleFontSize": 13, "titleFontWeight": "bold", "titleBaseline": "alphabetic", "titleY": -7}},
      "y": {"field": "od", "type": "quantitative", "title": "O.D.", "axis": {"values": [0, 0.3, 0.6, 0.9, 1.2, 1.5, 1.8], "format": ".1f", "grid": true, "labelOverlap": false}},
      "color": {"field": "animal", "type": "nominal", "legend": null}
     }},
    {"transform": [{"filter": "indexof(datum.animal, '#') === 0"}], "mark": {"type": "rule", "color": "#4a4a4a", "strokeWidth": 1},
     "encoding": {"x": {"field": "slot", "type": "nominal", "axis": null}, "y": {"field": "od", "type": "quantitative", "title": "O.D.", "axis": {"values": [0, 0.3, 0.6, 0.9, 1.2, 1.5, 1.8], "format": ".1f", "grid": true, "labelOverlap": false}}, "y2": {"field": "upper"}}},
    {"transform": [{"filter": "indexof(datum.animal, '#') === 0"}], "mark": {"type": "tick", "color": "#4a4a4a", "size": 3, "thickness": 1, "orient": "horizontal"},
     "encoding": {"x": {"field": "slot", "type": "nominal", "axis": null}, "y": {"field": "upper", "type": "quantitative", "title": "O.D.", "axis": {"values": [0, 0.3, 0.6, 0.9, 1.2, 1.5, 1.8], "format": ".1f", "grid": true, "labelOverlap": false}}}},
    {"transform": [{"filter": "indexof(datum.animal, 'C') === 0"}], "mark": {"type": "rule", "color": "#4a4a4a", "strokeWidth": 1, "xOffset": 4},
     "encoding": {"x": {"field": "slot", "type": "nominal", "axis": null}, "y": {"field": "od", "type": "quantitative", "title": "O.D.", "axis": {"values": [0, 0.3, 0.6, 0.9, 1.2, 1.5, 1.8], "format": ".1f", "grid": true, "labelOverlap": false}}, "y2": {"field": "upper"}}},
    {"transform": [{"filter": "indexof(datum.animal, 'C') === 0"}], "mark": {"type": "tick", "color": "#4a4a4a", "size": 3, "thickness": 1, "orient": "horizontal", "xOffset": 4},
     "encoding": {"x": {"field": "slot", "type": "nominal", "axis": null}, "y": {"field": "upper", "type": "quantitative", "title": "O.D.", "axis": {"values": [0, 0.3, 0.6, 0.9, 1.2, 1.5, 1.8], "format": ".1f", "grid": true, "labelOverlap": false}}}}
   ]}
]
}
